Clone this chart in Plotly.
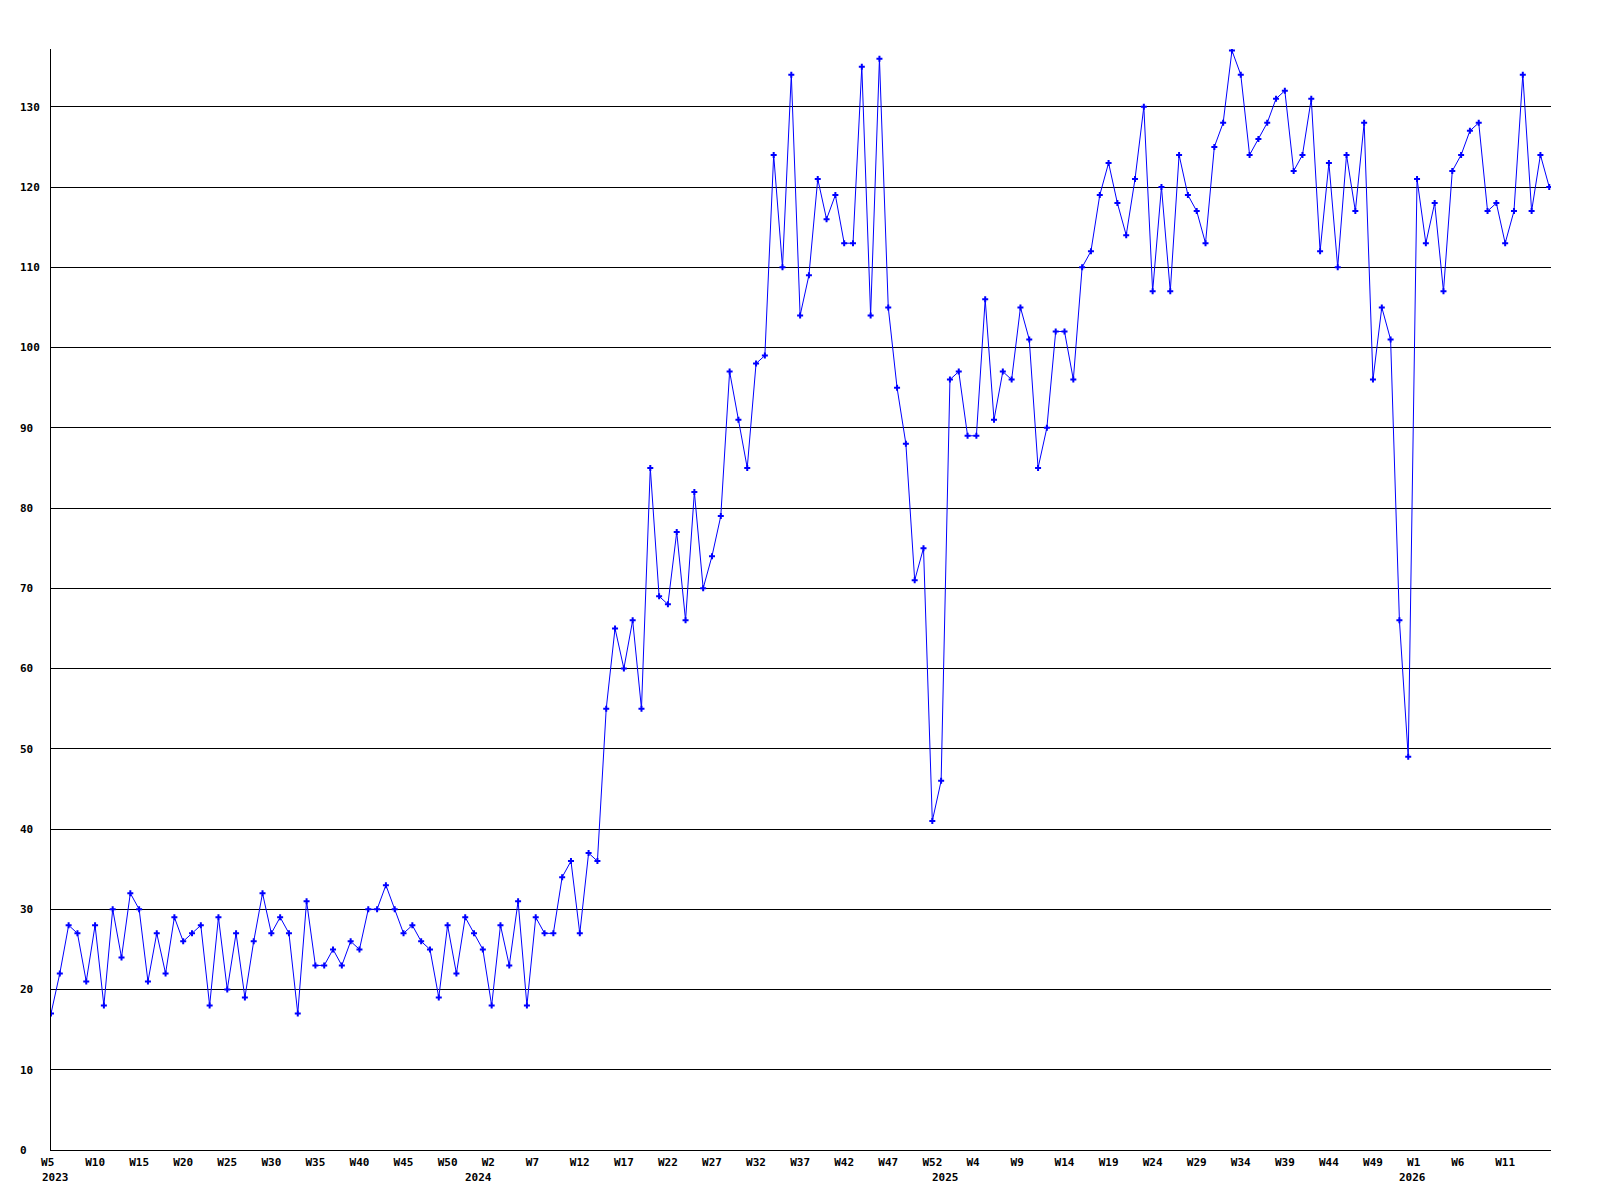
import plotly.graph_objects as go

values = [
    17, 22, 28, 27, 21, 28, 18, 30, 24, 32, 30, 21, 27, 22, 29, 26, 27, 28, 18, 29,
    20, 27, 19, 26, 32, 27, 29, 27, 17, 31, 23, 23, 25, 23, 26, 25, 30, 30, 33, 30,
    27, 28, 26, 25, 19, 28, 22, 29, 27, 25, 18, 28, 23, 31, 18, 29, 27, 27, 34, 36,
    27, 37, 36, 55, 65, 60, 66, 55, 85, 69, 68, 77, 66, 82, 70, 74, 79, 97, 91, 85,
    98, 99, 124, 110, 134, 104, 109, 121, 116, 119, 113, 113, 135, 104, 136, 105, 95, 88, 71, 75,
    41, 46, 96, 97, 89, 89, 106, 91, 97, 96, 105, 101, 85, 90, 102, 102, 96, 110, 112, 119,
    123, 118, 114, 121, 130, 107, 120, 107, 124, 119, 117, 113, 125, 128, 137, 134, 124, 126, 128, 131,
    132, 122, 124, 131, 112, 123, 110, 124, 117, 128, 96, 105, 101, 66, 49, 121, 113, 118, 107, 122,
    124, 127, 128, 117, 118, 113, 117, 134, 117, 124, 120,
]

week_tick_labels = [
    "W5", "W10", "W15", "W20", "W25", "W30", "W35", "W40", "W45", "W50",
    "W2", "W7", "W12", "W17", "W22", "W27", "W32", "W37", "W42", "W47", "W52",
    "W4", "W9", "W14", "W19", "W24", "W29", "W34", "W39", "W44", "W49",
    "W1", "W6", "W11",
]
week_tick_step = 5

year_labels = ["2023", "2024", "2025", "2026"]
year_positions = [0, 48, 101, 154]

y_ticks = list(range(0, 140, 10))

NB = "\u00a0"
x_idx = list(range(len(values)))
x_tickvals = [i * week_tick_step for i in range(len(week_tick_labels))]
x_ticktext = [t + NB * (3 - len(t)) for t in week_tick_labels]
y_ticktext = [str(v) + NB * (3 - len(str(v))) for v in y_ticks]

font_family = "DejaVu Sans Mono"

fig = go.Figure()
fig.add_trace(go.Scatter(
    x=x_idx, y=values, mode="lines+markers",
    line=dict(color="#0000ff", width=1),
    marker=dict(symbol="cross", size=5, color="#0000ff", line=dict(width=0)),
    hoverinfo="skip",
))

for lbl, pos in zip(year_labels, year_positions):
    fig.add_annotation(
        x=pos, y=0, xref="x", yref="paper", text=lbl, showarrow=False,
        xanchor="left", yanchor="top", xshift=-11, yshift=-19,
        font=dict(family=font_family, size=11, color="black", weight="bold"),
    )

fig.update_layout(
    width=1600, height=1200,
    margin=dict(l=43, r=57, t=41, b=58),
    paper_bgcolor="white", plot_bgcolor="white",
    showlegend=False,
    font=dict(family=font_family, size=11, color="black", weight="bold"),
)
fig.update_xaxes(
    range=[0, 170.2], showgrid=False, zeroline=False,
    showline=True, linecolor="black", linewidth=1,
    tickvals=x_tickvals, ticktext=x_ticktext, ticks="",
    tickfont=dict(family=font_family, size=11, color="black", weight="bold"),
    ticklabelstandoff=2,
)
fig.update_yaxes(
    range=[0, 137.2], showgrid=True, gridcolor="black", gridwidth=1,
    zeroline=False, showline=True, linecolor="black", linewidth=1,
    tickvals=y_ticks, ticktext=y_ticktext, ticks="",
    tickfont=dict(family=font_family, size=11, color="black", weight="bold"),
    ticklabelstandoff=8,
)

fig.write_html("out.html")
